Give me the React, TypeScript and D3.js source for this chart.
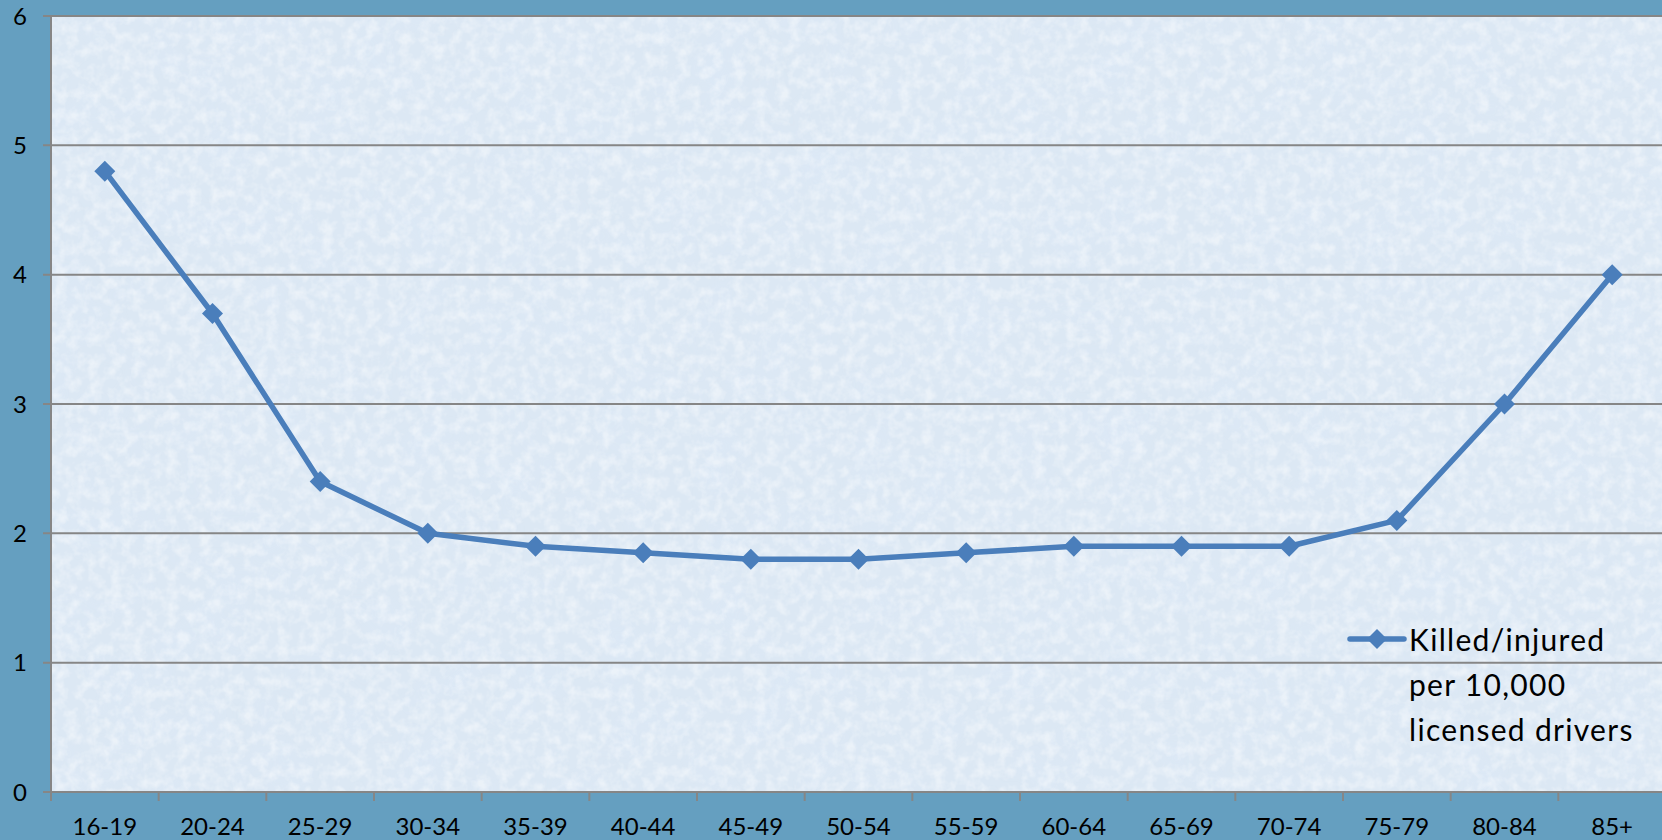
import * as d3 from 'd3';
import { useEffect } from 'react';

const ageGroups = ['16-19', '20-24', '25-29', '30-34', '35-39', '40-44', '45-49', '50-54', '55-59', '60-64', '65-69', '70-74', '75-79', '80-84', '85+'];
const ratePer10k = [4.8, 3.7, 2.4, 2.0, 1.9, 1.85, 1.8, 1.8, 1.85, 1.9, 1.9, 1.9, 2.1, 3.0, 4.0];
const yTicks = [0, 1, 2, 3, 4, 5, 6];
const legendLines = ['Killed/injured', 'per 10,000', 'licensed drivers'];

const width = 1662;
const height = 840;
const margin = { top: 16, right: -4, bottom: 48, left: 51 };
const lineColor = '#4A7EBB';
const font = 'Lato, "Open Sans", sans-serif';

const App = () => {
  useEffect(() => {
    document.body.style.margin = '0';
  }, []);

  const x = d3.scaleBand().domain(ageGroups).range([margin.left, width - margin.right]);
  const y = d3.scaleLinear().domain([0, 6]).range([height - margin.bottom, margin.top]);

  const line = d3
    .line<number>()
    .x((_d, i) => x(ageGroups[i])! + x.bandwidth() / 2)
    .y((d) => y(d));

  const diamond = (cx: number, cy: number, r: number) =>
    `M${cx},${cy - r}L${cx + r},${cy}L${cx},${cy + r}L${cx - r},${cy}Z`;

  const plotW = width - margin.right - margin.left;
  const plotH = y(0) - y(6);
  const boundaries = ageGroups.map((g) => x(g)!).concat([width - margin.right]);

  return (
    <svg width={width} height={height} style={{ display: 'block' }} fontFamily={font}>
      <defs>
        {/* paper-like texture for the plot area */}
        <filter id='paper' x='0' y='0' width='100%' height='100%'>
          <feTurbulence type='fractalNoise' baseFrequency='0.09' numOctaves={3} seed={7} result='noise' />
          <feColorMatrix
            in='noise'
            type='matrix'
            values='0 0 0 0 1  0 0 0 0 1  0 0 0 0 1  0 0 0 -2.2 1.35'
          />
        </filter>
        <filter id='blotch' x='0' y='0' width='100%' height='100%'>
          <feTurbulence type='fractalNoise' baseFrequency='0.02' numOctaves={2} seed={3} result='noise' />
          <feColorMatrix
            in='noise'
            type='matrix'
            values='0 0 0 0 0.72  0 0 0 0 0.82  0 0 0 0 0.95  0 0 0 1.6 -0.7'
          />
        </filter>
      </defs>
      <rect width={width} height={height} fill='#659FC0' />
      <rect x={margin.left} y={y(6)} width={plotW} height={plotH} fill='#DCE8F4' />
      <rect x={margin.left} y={y(6)} width={plotW} height={plotH} filter='url(#blotch)' opacity={0.5} />
      <rect x={margin.left} y={y(6)} width={plotW} height={plotH} filter='url(#paper)' opacity={0.45} />

      {/* gridlines + y axis */}
      {yTicks.map((t) => (
        <g key={t}>
          <line x1={margin.left - 8} x2={width} y1={y(t)} y2={y(t)} stroke='#868686' strokeWidth={2} />
          <text x={20} y={y(t)} dy='0.36em' textAnchor='middle' fontSize={24} fill='#000'>
            {t}
          </text>
        </g>
      ))}
      <line x1={margin.left} x2={margin.left} y1={y(6)} y2={y(0)} stroke='#868686' strokeWidth={2} />

      {/* x axis */}
      {boundaries.map((bx, i) => (
        <line key={i} x1={bx} x2={bx} y1={y(0)} y2={y(0) + 9} stroke='#868686' strokeWidth={2} />
      ))}
      {ageGroups.map((g) => (
        <text key={g} x={x(g)! + x.bandwidth() / 2} y={835} textAnchor='middle' fontSize={24} fill='#000'>
          {g}
        </text>
      ))}

      {/* series */}
      <path d={line(ratePer10k)!} fill='none' stroke={lineColor} strokeWidth={5.5} strokeLinejoin='round' />
      {ratePer10k.map((v, i) => (
        <path key={i} d={diamond(x(ageGroups[i])! + x.bandwidth() / 2, y(v), 10.5)} fill={lineColor} />
      ))}

      {/* legend */}
      <line x1={1350} x2={1404} y1={639} y2={639} stroke={lineColor} strokeWidth={5.5} strokeLinecap='round' />
      <path d={diamond(1377, 639, 10)} fill={lineColor} />
      {legendLines.map((s, i) => (
        <text key={s} x={1409} y={651 + i * 45} fontSize={30} letterSpacing={1.3} fill='#000'>
          {s}
        </text>
      ))}
    </svg>
  );
};

export default App;
